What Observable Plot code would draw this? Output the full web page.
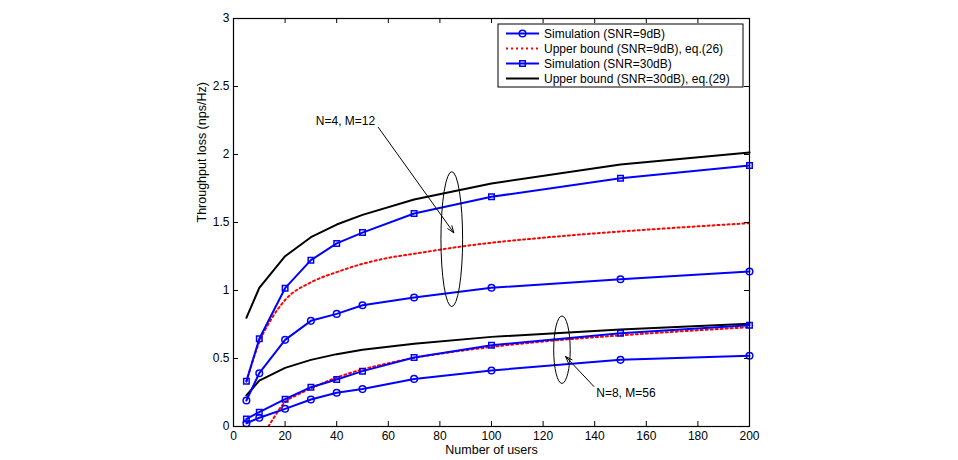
<!DOCTYPE html>
<html>
<head>
<meta charset="utf-8">
<script src="https://cdn.jsdelivr.net/npm/d3@7"></script>
<script src="https://cdn.jsdelivr.net/npm/@observablehq/plot@0.6"></script>
<style>
  html, body { margin: 0; padding: 0; background: white; }
  #chart { width: 958px; height: 460px; }
</style>
</head>
<body>
<div id="chart"></div>
<script>
// ---------- data ----------
const users = [5, 10, 20, 30, 40, 50, 70, 100, 150, 200];

// N=4, M=12
const sim9_N4  = [0.191, 0.392, 0.637, 0.777, 0.828, 0.892, 0.949, 1.020, 1.083, 1.140];
const sim30_N4 = [0.333, 0.645, 1.017, 1.223, 1.346, 1.426, 1.566, 1.689, 1.826, 1.919];
const ub30_N4  = [0.799, 1.020, 1.252, 1.392, 1.485, 1.556, 1.669, 1.787, 1.926, 2.015];
const ubUsers_N4 = [5, 10, 15, 20, 30, 40, 50, 60, 70, 80, 90, 100, 120, 140, 160, 180, 200];
const ub9_N4     = [0.33, 0.62, 0.80, 0.93, 1.06, 1.135, 1.196, 1.24, 1.27, 1.30, 1.328, 1.351, 1.388, 1.42, 1.447, 1.472, 1.495];

// N=8, M=56
const sim9_N8  = [0.024, 0.064, 0.130, 0.199, 0.248, 0.275, 0.350, 0.412, 0.490, 0.520];
const sim30_N8 = [0.056, 0.105, 0.201, 0.289, 0.346, 0.407, 0.507, 0.598, 0.686, 0.745];
const ub30_N8  = [0.228, 0.338, 0.431, 0.490, 0.532, 0.564, 0.608, 0.659, 0.713, 0.755];
const ubUsers_N8 = [13.5, 15, 20, 25, 30, 40, 50, 60, 70, 80, 100, 120, 150, 200];
const ub9_N8     = [0.0, 0.045, 0.18, 0.235, 0.28, 0.36, 0.42, 0.465, 0.505, 0.535, 0.585, 0.625, 0.670, 0.730];

// axis ticks
const xTicks = [0, 20, 40, 60, 80, 100, 120, 140, 160, 180, 200];
const yTicks = [0, 0.5, 1, 1.5, 2, 2.5, 3];

// legend labels
const legendLabels = [
  "Simulation (SNR=9dB)",
  "Upper bound (SNR=9dB), eq.(26)",
  "Simulation (SNR=30dB)",
  "Upper bound (SNR=30dB), eq.(29)"
];

// annotations
const annoLabels = ["N=4, M=12", "N=8, M=56"];
const annoTextX = [43.4, 152.1];
const annoTextY = [2.243, 0.245];
const arrowX1 = [56.1, 139.7], arrowY1 = [2.20, 0.294];
const arrowX2 = [85.4, 128.7], arrowY2 = [1.424, 0.515];
const ellipseCX = [84.8, 127.5], ellipseCY = [1.374, 0.561];
const ellipseRX = [4.2, 3.2], ellipseRY = [0.496, 0.248];

// ---------- build tables ----------
const rows = (xs, ys, group) => xs.map((x, i) => ({x, y: ys[i], group}));
const sim9  = [...rows(users, sim9_N4, "N4"),  ...rows(users, sim9_N8, "N8")];
const sim30 = [...rows(users, sim30_N4, "N4"), ...rows(users, sim30_N8, "N8")];
const ub30  = [...rows(users, ub30_N4, "N4"),  ...rows(users, ub30_N8, "N8")];
const ub9   = [...rows(ubUsers_N4, ub9_N4, "N4"), ...rows(ubUsers_N8, ub9_N8, "N8")];
const annos = annoLabels.map((t, i) => ({
  t, tx: annoTextX[i], ty: annoTextY[i],
  x1: arrowX1[i], y1: arrowY1[i], x2: arrowX2[i], y2: arrowY2[i]
}));

const BLUE = "#0000ff", RED = "#ff0000";
const DOTS = "2,3";
const innerH = 460 - 18 - 34, innerW = 958 - 233 - 209;

const plot = Plot.plot({
  width: 958, height: 460,
  marginLeft: 233, marginRight: 209, marginTop: 18, marginBottom: 34,
  x: {domain: [0, 200]},
  y: {domain: [0, 3]},
  style: {fontFamily: "'Liberation Sans', Arial, Helvetica, sans-serif", fontSize: "12px", background: "white", color: "black"},
  marks: [
    Plot.line(ub30, {x: "x", y: "y", z: "group", stroke: "black", strokeWidth: 2}),
    Plot.line(ub9, {x: "x", y: "y", z: "group", stroke: RED, strokeWidth: 2, strokeDasharray: DOTS, curve: "monotone-x", clip: true}),
    Plot.line(sim30, {x: "x", y: "y", z: "group", stroke: BLUE, strokeWidth: 2}),
    Plot.dot(sim30, {x: "x", y: "y", symbol: "square", r: 3.1, stroke: BLUE, strokeWidth: 1.5, fill: "none"}),
    Plot.line(sim9, {x: "x", y: "y", z: "group", stroke: BLUE, strokeWidth: 2}),
    Plot.dot(sim9, {x: "x", y: "y", symbol: "circle", r: 3.3, stroke: BLUE, strokeWidth: 1.5, fill: "none"}),
    Plot.arrow(annos, {x1: "x1", y1: "y1", x2: "x2", y2: "y2", stroke: "black", strokeWidth: 1, headLength: 11, headAngle: 40}),
    Plot.text(annos, {x: "tx", y: "ty", text: "t", fontSize: 12}),
    Plot.frame({stroke: "black", strokeWidth: 1.2}),
    // inward ticks on all four sides
    Plot.ruleX(xTicks, {x: d => d, insetTop: innerH - 5, stroke: "black"}),
    Plot.ruleX(xTicks, {x: d => d, insetBottom: innerH - 5, stroke: "black"}),
    Plot.ruleY(yTicks, {y: d => d, insetRight: innerW - 5, stroke: "black"}),
    Plot.ruleY(yTicks, {y: d => d, insetLeft: innerW - 5, stroke: "black"}),
    Plot.axisX(xTicks, {tickSize: 0, tickPadding: 5, label: null}),
    Plot.axisY(yTicks, {tickSize: 0, tickPadding: 4, label: null, tickFormat: d => String(d)}),
    Plot.text(["Number of users"], {frameAnchor: "bottom", dy: 27, text: d => d, fontSize: 12.5}),
    Plot.text(["Throughput loss (nps/Hz)"], {frameAnchor: "left", dx: -32, rotate: -90, text: d => d, fontSize: 12.5})
  ]
});

document.getElementById("chart").appendChild(plot);

// ---------- ellipses & legend drawn via the plot's scales ----------
const sx = plot.scale("x"), sy = plot.scale("y");
const svg = d3.select(plot);

ellipseCX.forEach((cx, i) => {
  const px = sx.apply(cx), py = sy.apply(ellipseCY[i]);
  svg.append("ellipse")
    .attr("cx", px).attr("cy", py)
    .attr("rx", Math.abs(sx.apply(cx + ellipseRX[i]) - px))
    .attr("ry", Math.abs(sy.apply(ellipseCY[i] + ellipseRY[i]) - py))
    .attr("fill", "none").attr("stroke", "black").attr("stroke-width", 1);
});

const frameRight = sx.range[1], frameTop = sy.range[1];
const lg = svg.append("g").attr("text-anchor", "start");
const boxW = 245, boxH = 63;
const boxX = frameRight - 6 - boxW, boxY = frameTop + 6;
lg.append("rect").attr("x", boxX).attr("y", boxY).attr("width", boxW).attr("height", boxH)
  .attr("fill", "white").attr("stroke", "black").attr("stroke-width", 1);
const legendStyle = [
  {stroke: BLUE, dash: null, marker: "circle"},
  {stroke: RED, dash: DOTS, marker: null},
  {stroke: BLUE, dash: null, marker: "square"},
  {stroke: "black", dash: null, marker: null}
];
legendLabels.forEach((label, i) => {
  const cy = boxY + 9.5 + i * 15;
  const st = legendStyle[i];
  const l0 = boxX + 8, l1 = boxX + 41;
  lg.append("line").attr("x1", l0).attr("x2", l1).attr("y1", cy).attr("y2", cy)
    .attr("stroke", st.stroke).attr("stroke-width", 2).attr("stroke-dasharray", st.dash);
  const mx = (l0 + l1) / 2;
  if (st.marker === "circle") {
    lg.append("circle").attr("cx", mx).attr("cy", cy).attr("r", 3.3)
      .attr("fill", "none").attr("stroke", BLUE).attr("stroke-width", 1.5);
  } else if (st.marker === "square") {
    lg.append("rect").attr("x", mx - 2.75).attr("y", cy - 2.75).attr("width", 5.5).attr("height", 5.5)
      .attr("fill", "none").attr("stroke", BLUE).attr("stroke-width", 1.5);
  }
  lg.append("text").attr("x", boxX + 46).attr("y", cy).attr("dy", "0.35em")
    .attr("text-anchor", "start").attr("font-size", 12).attr("fill", "black").text(label);
});
</script>
</body>
</html>
